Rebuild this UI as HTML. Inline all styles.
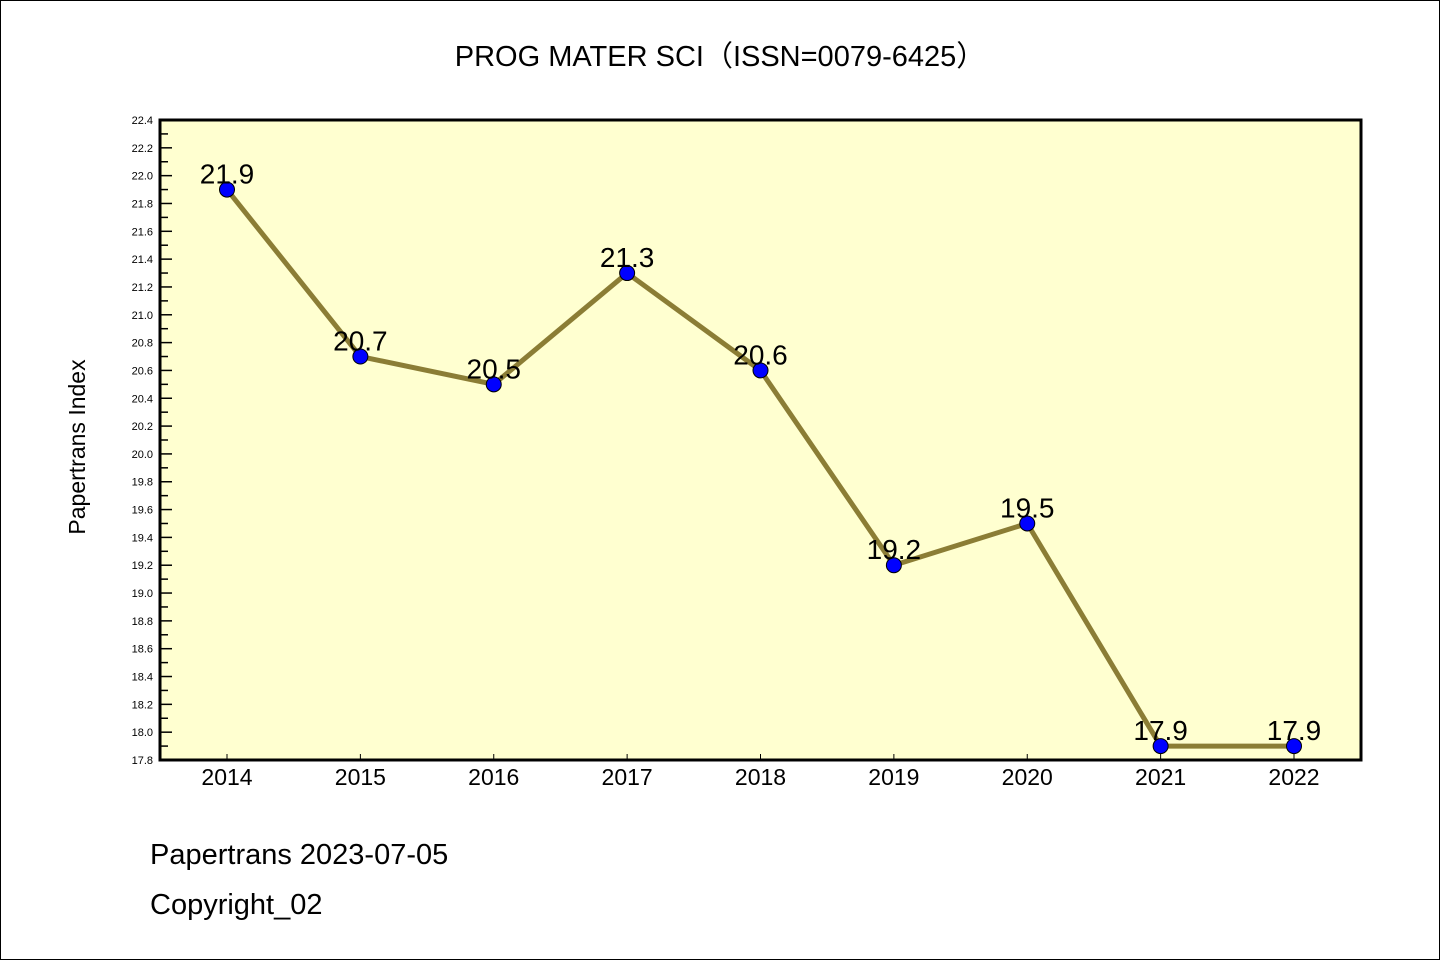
<!DOCTYPE html>
<html><head><meta charset="utf-8"><style>
body{margin:0;background:#fff;}
svg{display:block;font-family:"WenQuanYi Zen Hei","Liberation Sans",sans-serif;}
</style></head><body>
<svg id="chart" width="1440" height="960">
<rect x="0.5" y="0.5" width="1439" height="959" fill="#fff" stroke="#000" stroke-width="1"/>
<text x="720" y="66" text-anchor="middle" font-size="29">PROG MATER SCI（ISSN=0079-6425）</text>
<rect x="160" y="120" width="1201" height="640" fill="#ffffd0"/>
<g id="axes"></g>
<g id="series"></g>
<rect x="160" y="120" width="1201" height="640" fill="none" stroke="#000" stroke-width="3"/>
<text transform="translate(85,447) rotate(-90)" text-anchor="middle" font-size="23">Papertrans Index</text>
<text x="150" y="864" font-size="29">Papertrans 2023-07-05</text>
<text x="150" y="914" font-size="29">Copyright_02</text>
</svg>
<script>
const categories=["2014","2015","2016","2017","2018","2019","2020","2021","2022"];
const values=[21.9,20.7,20.5,21.3,20.6,19.2,19.5,17.9,17.9];
const valueLabels=["21.9","20.7","20.5","21.3","20.6","19.2","19.5","17.9","17.9"];
const yMin=17.8,yMax=22.4;
const NS="http://www.w3.org/2000/svg";
function y(v){return 760-(v-yMin)/(yMax-yMin)*640;}
function x(i){return 227+i*(1294-227)/(categories.length-1);}
function mk(t,a,p){const e=document.createElementNS(NS,t);for(const k in a)e.setAttribute(k,a[k]);p.appendChild(e);return e;}
const axes=document.getElementById('axes'),ser=document.getElementById('series');
const n=Math.round((yMax-yMin)/0.1);
for(let k=0;k<=n;k++){
 const v=yMin+k*0.1,yy=y(v),major=k%2===0;
 const l=mk('line',{x1:160,x2:major?172:168,y1:yy,y2:yy,stroke:'#000','stroke-width':1.5},axes);
 
 
 if(major){const t=mk('text',{x:153,y:yy+4,'text-anchor':'end','font-size':11,'font-family':'Liberation Sans, sans-serif'},axes);t.textContent=v.toFixed(1);
 
 }
}
categories.forEach((c,i)=>{
 const l=mk('line',{x1:x(i),x2:x(i),y1:760,y2:754,stroke:'#000','stroke-width':1},axes);
 
 
 const t=mk('text',{x:x(i),y:785,'text-anchor':'middle','font-size':23},axes);t.textContent=c;
 
 
});
const pl=mk('polyline',{points:values.map((v,i)=>x(i)+','+y(v)).join(' '),fill:'none',stroke:'#8b7d35','stroke-width':5,'stroke-linejoin':'round'},ser);


values.forEach((v,i)=>{
 const c=mk('circle',{cx:x(i),cy:y(v),r:7.5,fill:'#0000ff',stroke:'#000','stroke-width':1},ser);
 
 
 const t=mk('text',{x:x(i),y:y(v)-6,'text-anchor':'middle','font-size':28},ser);t.textContent=valueLabels[i];
 
 
});
</script>
</body></html>
